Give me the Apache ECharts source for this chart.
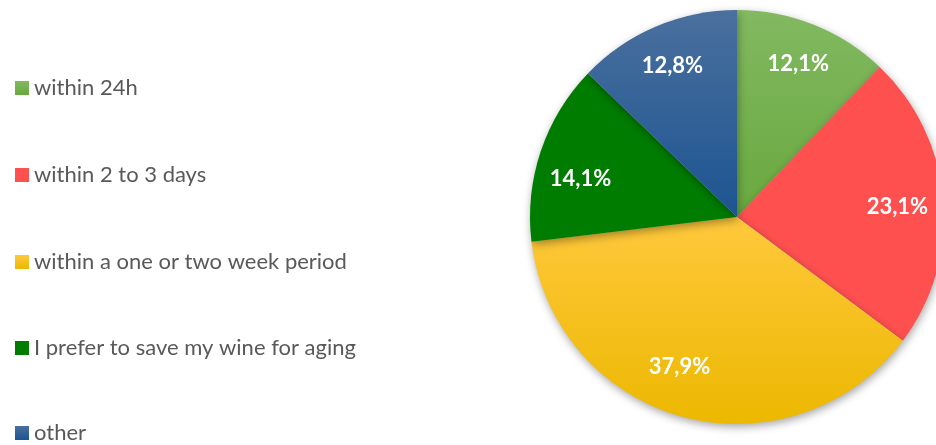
<!DOCTYPE html>
<html>
<head>
<meta charset="utf-8">
<script src="https://cdn.jsdelivr.net/npm/echarts@6/dist/echarts.min.js"></script>
<style>html,body{margin:0;padding:0;background:#fff}#c{width:936px;height:445px}</style>
</head>
<body>
<div id="c"></div>
<script>
const categories = ["within 24h", "within 2 to 3 days", "within a one or two week period", "I prefer to save my wine for aging", "other"];
const values = [12.1, 23.1, 37.9, 14.1, 12.8];
const colorStops = [
  ["#82b961", "#69a83e"],
  ["#ff5050", "#ff5050"],
  ["#ffc83c", "#ecb800"],
  ["#007c00", "#007c00"],
  ["#4a709e", "#1c5491"]
];
// layout-only constants (not data)
const legendCenters = [88, 175, 262, 348, 433];
const labelNudges = [[0, 0], [-4, 4], [-15, -10], [0, 14], [0, 1]];

const chart = echarts.init(document.getElementById('c'), null, {renderer: 'canvas'});
function grad(i) {
  return new echarts.graphic.LinearGradient(0, 0, 0, 1, [
    {offset: 0, color: colorStops[i][0]},
    {offset: 1, color: colorStops[i][1]}
  ]);
}
const pieData = categories.map((c, i) => ({name: c, value: values[i], itemStyle: {color: grad(i)}}));
const labelData = categories.map((c, i) => ({name: c, value: values[i], label: {offset: labelNudges[i]}}));
const legends = categories.map((c, i) => ({
  orient: 'vertical',
  left: 15,
  top: legendCenters[i] - 11,
  padding: 0,
  itemWidth: 14,
  itemHeight: 14,
  icon: 'rect',
  selectedMode: false,
  textStyle: {fontFamily: 'Lato', fontSize: 22, color: '#595959', lineHeight: 22},
  data: [{name: c, itemStyle: {color: grad(i)}}]
}));
chart.setOption({
  animation: false,
  color: colorStops.map(s => s[0]),
  legend: legends,
  series: [
    {
      type: 'pie',
      center: [737, 217],
      radius: [0, 207],
      startAngle: 90,
      clockwise: true,
      silent: true,
      label: {show: false},
      labelLine: {show: false},
      itemStyle: {shadowBlur: 8, shadowColor: 'rgba(0,0,0,0.35)', shadowOffsetY: 3, shadowOffsetX: 1},
      data: pieData
    },
    {
      type: 'pie',
      center: [737, 217],
      radius: [148, 176],
      startAngle: 90,
      clockwise: true,
      silent: true,
      legendHoverLink: false,
      itemStyle: {color: 'rgba(0,0,0,0)'},
      label: {
        show: true,
        position: 'inside',
        fontFamily: 'Lato',
        fontWeight: 'bold',
        fontSize: 22,
        color: '#ffffff',
        formatter: p => p.value.toFixed(1).replace('.', ',') + '%'
      },
      labelLine: {show: false},
      data: labelData
    }
  ]
});
</script>
</body>
</html>
